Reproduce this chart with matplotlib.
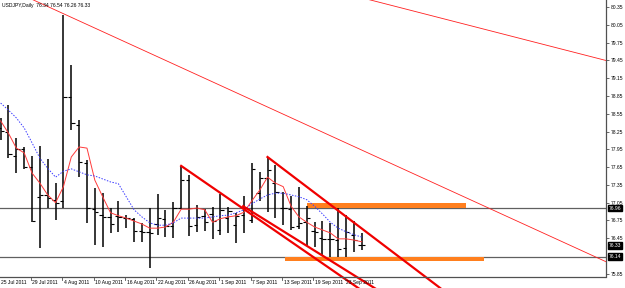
import matplotlib
matplotlib.use("Agg")
import matplotlib.pyplot as plt
from matplotlib.patches import Rectangle

chart_title = "USDJPY,Daily  76.34 76.54 76.26 76.33"

# daily bars 25 Jul 2011 .. 27 Sep 2011 (one entry per trading day)
opens = [78.31, 78.24, 77.84, 77.96, 77.65, 77.15, 77.18, 77.10, 77.08, 78.83,
         78.36, 77.72, 76.94, 76.84, 76.81, 76.83, 76.79, 76.78, 76.57, 76.56,
         76.69, 76.78, 76.66, 76.96, 77.43, 76.67, 76.83, 76.86, 76.59, 76.79,
         76.67, 76.84, 76.76, 77.21, 77.47, 77.38, 76.96, 76.94, 76.66, 76.72,
         76.57, 76.45, 76.44, 76.42, 76.29, 76.51, 76.34]
highs = [78.48, 78.70, 78.14, 77.99, 77.84, 78.01, 77.79, 77.38, 80.22, 79.37,
         78.44, 77.77, 77.30, 77.21, 76.96, 77.08, 76.84, 76.79, 76.71, 76.96,
         77.20, 76.93, 77.06, 77.67, 77.52, 77.01, 76.94, 76.98, 77.20, 76.98,
         76.88, 77.16, 77.72, 77.57, 77.82, 77.69, 77.23, 77.16, 77.32, 76.99,
         76.72, 76.74, 76.71, 76.96, 76.84, 76.74, 76.54]
lows = [78.11, 77.80, 77.55, 77.62, 76.72, 76.29, 76.96, 76.76, 76.96, 78.28,
        77.48, 76.71, 76.34, 76.30, 76.54, 76.56, 76.62, 76.39, 76.39, 75.95,
        76.51, 76.47, 76.45, 76.94, 76.49, 76.56, 76.57, 76.44, 76.51, 76.54,
        76.37, 76.54, 76.71, 77.08, 76.89, 76.79, 76.67, 76.59, 76.61, 76.32,
        76.30, 76.17, 76.13, 76.13, 76.13, 76.22, 76.26]
closes = [78.26, 77.87, 77.96, 77.65, 76.74, 77.18, 77.13, 77.05, 78.83, 78.39,
          77.74, 76.96, 76.89, 76.81, 76.69, 76.81, 76.79, 76.57, 76.56, 76.54,
          76.79, 76.66, 76.96, 77.43, 76.66, 76.81, 76.72, 76.74, 76.93, 76.91,
          76.83, 76.96, 77.62, 77.47, 77.60, 77.23, 76.96, 76.64, 76.71, 76.79,
          76.56, 76.44, 76.44, 76.27, 76.56, 76.42, 76.33]

# moving averages
ma_red = [78.43, 78.22, 77.97, 77.89, 77.55, 77.38, 77.18, 77.05, 77.32, 77.82,
          77.99, 77.97, 77.43, 77.15, 76.88, 76.83, 76.79, 76.74, 76.69, 76.62,
          76.62, 76.64, 76.72, 76.94, 76.94, 76.96, 76.93, 76.72, 76.78, 76.81,
          76.83, 76.89, 77.08, 77.26, 77.48, 77.38, 77.32, 76.99, 76.81, 76.72,
          76.64, 76.59, 76.54, 76.44, 76.44, 76.42, 76.39]
ma_blue = [78.73, 78.61, 78.48, 78.31, 78.06, 77.80, 77.63, 77.48, 77.58, 77.62,
           77.57, 77.52, 77.50, 77.45, 77.40, 77.37, 77.15, 76.93, 76.81, 76.71,
           76.67, 76.67, 76.71, 76.79, 76.79, 76.79, 76.79, 76.81, 76.83, 76.84,
           76.88, 76.93, 77.03, 77.11, 77.18, 77.21, 77.21, 77.18, 77.15, 77.10,
           76.99, 76.86, 76.72, 76.62, 76.56, 76.51, 76.47]

date_labels = ["25 Jul 2011", "29 Jul 2011", "4 Aug 2011", "10 Aug 2011",
               "16 Aug 2011", "22 Aug 2011", "26 Aug 2011", "1 Sep 2011",
               "7 Sep 2011", "13 Sep 2011", "19 Sep 2011", "23 Sep 2011"]
date_label_bars = [0, 4, 8, 12, 16, 20, 24, 28, 32, 36, 40, 44]

price_ticks = [80.35, 80.05, 79.75, 79.45, 79.15, 78.85, 78.55, 78.25, 77.95,
               77.65, 77.35, 77.05, 76.75, 76.45, 75.85]

# objects drawn on the chart: (bar, price) end points
level_lines = [76.96, 76.14]
price_tags = [76.96, 76.33, 76.14]
thin_trendlines = [((2.0, 80.60), (80.0, 75.88)),
                   ((45.0, 80.54), (80.0, 79.35))]
channel_lines = [((23.0, 77.67), (46.0, 75.57)),
                 ((30.9, 76.99), (48.0, 75.58)),
                 ((34.0, 77.82), (56.0, 75.61))]
zones = [(39.0, 59.3, 76.96, 77.04),
         (36.2, 61.6, 76.06, 76.13)]

plt.rcParams['font.family'] = ['Liberation Sans', 'DejaVu Sans']
fs = 3.6

fig = plt.figure(figsize=(6.25, 2.88), dpi=100)
ax = fig.add_axes([0, 0, 606 / 625, 1])

x_left, x_right = -0.08, 77.12
y_top, y_bottom = 80.468, 75.611
axis_bottom = 75.797
ax.set_xlim(x_left, x_right)
ax.set_ylim(y_bottom, y_top)

# horizontal levels
for lvl in level_lines:
    ax.axhline(lvl, color='#606060', lw=0.9, zorder=1)

# orange zones
for x0, x1, p0, p1 in zones:
    ax.add_patch(Rectangle((x0, p0), x1 - x0, p1 - p0, color='#ff7f1e', lw=0, zorder=2))

# bars
idx = list(range(len(opens)))
ax.vlines(idx, lows, highs, color='black', lw=1.1, zorder=3)
ax.hlines(opens, [i - 0.42 for i in idx], idx, color='black', lw=0.8, zorder=3)
ax.hlines(closes, idx, [i + 0.42 for i in idx], color='black', lw=0.8, zorder=3)

# indicators
ax.plot(idx, ma_red, color='#ff3b3b', lw=0.7, zorder=4)
ax.plot(idx, ma_blue, color='#3c3cff', lw=0.7, ls=(0, (1.5, 1.5)), zorder=4)

# trendlines
for (xa, ya), (xb, yb) in thin_trendlines:
    ax.plot([xa, xb], [ya, yb], color='#ff2020', lw=0.6, zorder=5)
for (xa, ya), (xb, yb) in channel_lines:
    ax.plot([xa, xb], [ya, yb], color='#f00000', lw=1.6, zorder=5)

# time scale
ax.axhline(axis_bottom, color='#505050', lw=0.9, zorder=6)
for b, lab in zip(date_label_bars, date_labels):
    ax.plot([b - 0.15, b - 0.15], [axis_bottom, axis_bottom - 0.05], color='#505050', lw=0.6, zorder=6)
    ax.text(b + 0.05, 75.71, lab, fontsize=fs, ha='left', va='center', zorder=7)

# price scale
for s in ['top', 'left', 'bottom']:
    ax.spines[s].set_visible(False)
ax.spines['right'].set_bounds(axis_bottom, y_top)
ax.spines['right'].set_color('#505050')
ax.spines['right'].set_linewidth(0.9)
ax.set_xticks([])
ax.yaxis.tick_right()
ax.set_yticks(price_ticks)
ax.set_yticklabels([f"{p:.2f}" for p in price_ticks])
ax.tick_params(axis='y', labelsize=fs, length=2, width=0.6, pad=1.5, color='#505050')

for p in price_tags:
    ax.text(1.004, (p - y_bottom) / (y_top - y_bottom), f"{p:.2f}", transform=ax.transAxes,
            fontsize=fs, color='white', ha='left', va='center', zorder=10, clip_on=False,
            bbox=dict(boxstyle='square,pad=0.15', fc='black', ec='black'))

fig.text(2 / 625, 1 - 5 / 288, chart_title, fontsize=fs, ha='left', va='center')

fig.savefig("out.png", dpi=100, facecolor='white')
